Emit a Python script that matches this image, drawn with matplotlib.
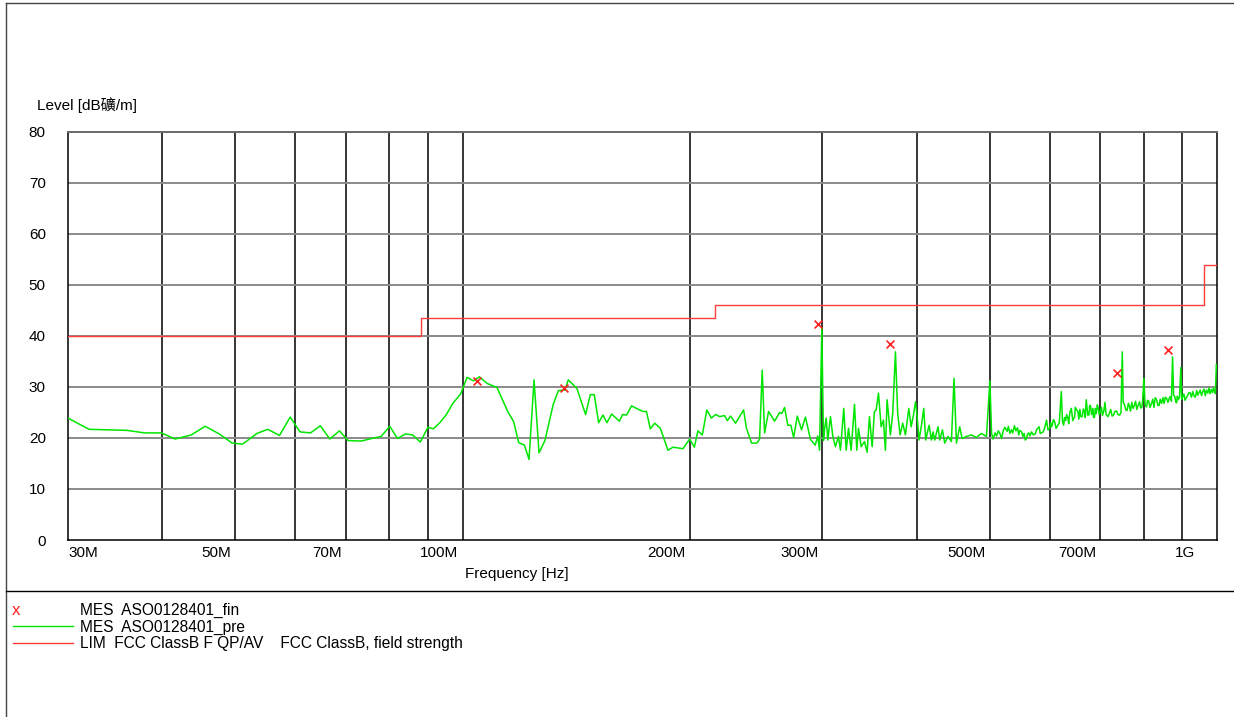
import matplotlib
matplotlib.use("Agg")
import matplotlib.pyplot as plt
from matplotlib.lines import Line2D
from matplotlib.transforms import blended_transform_factory, ScaledTranslation

plt.rcParams['font.family'] = ['Liberation Sans', 'Noto Sans CJK SC', 'DejaVu Sans']

# pre-scan trace (MHz, dBuV/m)
pre_freq = [30.0, 32.0, 35.9, 37.9, 39.9, 41.6, 43.7, 45.6, 47.6, 49.5,
            51.1, 52.1, 53.4, 55.2, 57.2, 59.1, 60.9, 62.9, 64.8, 66.7,
            68.7, 70.5, 73.4, 75.8, 78.0, 80.1, 82.0, 84.0, 85.9, 87.9,
            90.0, 91.5, 93.3, 95.1, 97.1, 99.4, 101.4, 103.4, 105.3, 107.8,
            111.1, 114.8, 116.9, 118.7, 120.8, 122.5, 124.4, 126.3, 128.6, 131.9,
            134.0, 136.7, 138.1, 141.8, 145.6, 147.7, 149.5, 151.5, 153.5, 155.4,
            157.6, 161.4, 163.0, 165.0, 167.5, 171.7, 173.5, 175.3, 177.4, 179.8,
            182.9, 187.2, 190.1, 196.0, 200.0, 202.9, 205.1, 207.9, 210.8, 213.7,
            216.5, 219.2, 222.5, 224.4, 226.6, 230.1, 235.8, 237.8, 241.6, 245.6,
            247.6, 249.6, 251.4, 254.5, 259.2, 263.2, 265.0, 267.2, 269.9, 272.4,
            274.7, 277.8, 281.4, 284.8, 289.2, 293.4, 295.7, 297.3, 299.4, 300.9,
            301.8, 303.4, 304.9, 307.4, 309.6, 312.1, 315.0, 316.9, 320.1, 322.5,
            324.8, 327.4, 330.8, 333.1, 334.8, 337.6, 341.0, 343.8, 346.2, 349.1,
            351.5, 353.4, 355.9, 358.8, 361.3, 363.5, 365.4, 369.1, 371.7, 374.8,
            377.4, 380.2, 383.2, 386.4, 390.4, 393.2, 396.0, 398.4, 400.3, 402.8,
            405.8, 408.6, 411.1, 415.3, 418.4, 420.4, 422.6, 426.8, 429.1, 432.6,
            435.6, 440.0, 444.6, 448.2, 451.5, 456.0, 459.3, 465.4, 472.6, 479.9,
            487.2, 494.8, 500.0,
            502.6, 505.0, 508.0, 510.3, 513.0, 515.5, 518.0, 521.0, 523.4, 527.1,
            529.0, 531.5, 534.0, 536.0, 539.0, 541.3, 544.0, 546.0, 548.0, 550.8,
            553.0, 555.0, 557.0, 559.2, 561.0, 563.0, 565.0, 567.8, 571.0, 574.0,
            577.0, 581.1, 583.0, 585.0, 588.3, 591.0, 594.4, 597.0, 600.0, 602.0,
            604.0, 607.0, 609.2, 612.0, 615.4, 618.0, 621.8, 624.0, 626.2, 628.0,
            630.0, 632.0, 634.4, 636.0, 638.0, 641.0, 644.0, 647.6, 649.0, 651.0,
            654.1, 656.0, 658.0, 660.0, 662.9, 665.0, 667.0, 669.0, 671.0, 674.0,
            676.4, 678.0, 680.0, 682.0, 684.8, 686.0, 688.0, 690.0, 691.9, 694.0,
            696.0, 698.0, 700.4, 703.0, 705.0, 708.0, 710.3, 713.0, 716.8, 720.0,
            723.0, 726.0, 729.4, 732.0, 736.0, 739.0, 742.9, 746.0, 749.0, 751.0,
            754.3, 757.0, 760.0, 763.0, 765.9, 768.0, 771.0, 774.0, 777.6, 780.0,
            783.0, 786.0, 789.6, 792.0, 795.0, 797.0, 800.0, 803.0, 806.6, 809.0,
            812.0, 815.0, 819.0, 822.0, 825.0, 828.0, 831.6, 835.0, 838.0, 841.0,
            844.4, 848.0, 851.0, 854.0, 857.4, 861.0, 866.0, 870.0, 873.2, 876.0,
            879.3, 882.0, 884.0, 886.0, 888.2, 892.0, 895.5, 898.0, 900.8, 904.0,
            907.0, 911.0, 914.7, 918.0, 921.0, 925.0, 928.7, 932.0, 936.0, 940.0,
            943.0, 947.0, 950.0, 954.0, 957.5, 961.0, 965.0, 968.0, 972.2, 976.0,
            979.0, 982.4, 986.0, 989.0, 992.3, 995.0, 998.0]
pre_level = [23.9, 21.7, 21.5, 21.0, 21.0, 19.8, 20.6, 22.3, 20.8, 19.0,
             18.8, 19.7, 20.9, 21.7, 20.5, 24.1, 21.2, 21.0, 22.4, 19.8,
             21.4, 19.5, 19.4, 19.9, 20.3, 22.3, 19.9, 20.8, 20.6, 19.2,
             22.1, 21.8, 23.0, 24.5, 26.8, 28.6, 31.9, 31.2, 32.0, 30.7,
             29.9, 25.2, 23.2, 19.1, 18.6, 15.8, 31.4, 17.1, 19.5, 26.6,
             29.3, 29.4, 31.4, 29.7, 24.6, 28.5, 28.5, 23.0, 24.5, 23.0,
             24.7, 23.3, 24.6, 24.5, 26.3, 25.5, 25.2, 25.2, 21.8, 22.9,
             21.9, 17.6, 18.2, 17.9, 19.8, 18.2, 21.4, 20.6, 25.5, 23.9,
             24.6, 24.2, 24.4, 23.4, 24.3, 22.9, 25.5, 22.0, 19.0, 19.0,
             19.8, 33.3, 21.0, 25.2, 23.3, 25.0, 24.8, 26.0, 22.5, 22.5,
             20.1, 24.3, 21.6, 24.1, 19.7, 18.6, 20.4, 17.6, 41.5, 19.5,
             21.6, 23.9, 19.6, 24.2, 20.3, 18.3, 20.3, 17.6, 25.8, 17.6,
             21.9, 17.6, 26.6, 17.6, 21.9, 18.3, 19.3, 17.2, 24.2, 18.3,
             25.2, 25.5, 28.8, 22.2, 23.5, 17.6, 27.5, 20.6, 24.8, 36.9,
             24.8, 20.6, 22.9, 20.6, 25.8, 22.2, 24.5, 27.1, 24.5, 19.6,
             22.5, 25.8, 19.6, 22.5, 19.6, 21.2, 19.6, 22.2, 19.6, 21.6,
             19.0, 20.3, 19.3, 31.7, 19.0, 22.2, 19.9, 20.3, 20.6, 20.1,
             20.9, 20.3, 31.2,
             20.9, 19.8, 21.0, 20.4, 21.4, 20.9, 19.9, 21.5, 22.1, 21.3,
             22.3, 20.9, 21.6, 21.0, 22.4, 21.4, 22.0, 20.6, 21.5, 21.2,
             20.3, 20.9, 19.6, 19.9, 20.8, 21.0, 20.4, 21.2, 20.6, 20.8,
             21.7, 22.2, 20.9, 21.0, 21.2, 22.0, 23.5, 21.6, 21.9, 23.0,
             22.2, 23.6, 23.2, 21.9, 22.5, 23.0, 29.1, 23.4, 22.5, 24.0,
             23.4, 24.6, 23.9, 22.8, 24.9, 25.8, 23.4, 24.2, 26.0, 25.6,
             25.2, 23.7, 25.6, 24.2, 24.2, 25.7, 25.4, 24.0, 27.5, 24.5,
             24.5, 26.4, 26.2, 24.6, 25.8, 24.0, 24.1, 25.8, 24.8, 26.5,
             25.9, 24.6, 25.2, 26.0, 24.4, 25.3, 27.0, 24.6, 24.2, 24.8,
             25.6, 24.3, 24.5, 25.2, 25.3, 24.6, 24.5, 25.0, 36.9, 27.0,
             26.5, 25.5, 25.4, 26.8, 26.1, 25.3, 27.0, 25.8, 26.5, 27.2,
             25.6, 26.4, 27.1, 25.9, 26.0, 27.3, 31.7, 26.5, 26.1, 27.4,
             27.2, 26.0, 26.8, 27.6, 26.0, 27.9, 27.5, 26.4, 26.4, 27.6,
             26.8, 27.9, 26.8, 28.0, 27.8, 27.0, 28.1, 27.2, 35.9, 28.4,
             28.1, 27.0, 26.9, 28.2, 27.5, 28.0, 33.8, 27.6, 28.1, 28.6,
             27.4, 28.0, 28.4, 28.9, 28.9, 28.0, 29.1, 28.3, 28.0, 29.3,
             28.4, 29.0, 29.4, 28.3, 29.1, 29.6, 28.3, 29.4, 28.8, 29.8,
             28.7, 29.5, 28.9, 29.8, 29.1, 28.7, 34.4]

# final measurement points
fin_freq = [104.5, 136.2, 295.5, 369.1, 737.8, 861.5]
fin_level = [31.2, 29.9, 42.3, 38.4, 32.8, 37.3]

# FCC Class B limit
lim_freq = [30, 88, 216, 960, 1000]
lim_level = [40, 43.5, 46, 54, 54]

grid_freq = [40, 50, 60, 70, 80, 90, 100, 200, 300, 400, 500, 600, 700, 800, 900]
xtick_freq = [30, 50, 70, 100, 200, 300, 500, 700, 1000]
xtick_labels = ['30M', '50M', '70M', '100M', '200M', '300M', '500M', '700M', '1G']
yticks = [0, 10, 20, 30, 40, 50, 60, 70, 80]

fs = 11
fs_leg = 11.2

fig = plt.figure(figsize=(12.34, 7.17), dpi=100)
ax = fig.add_axes([68 / 1234, 1 - 540 / 717, 1149 / 1234, 408 / 717])

ax.set_xscale('log')
ax.set_xlim(30, 1000)
ax.set_ylim(0, 80)

for f in grid_freq:
    ax.axvline(f, color='black', lw=1.1, zorder=1)
for y in yticks[1:]:
    ax.axhline(y, color='#8a8a8a', lw=1.4, zorder=1)

ax.plot(lim_freq, lim_level, drawstyle='steps-post', color='#ff3b3b', lw=1.0, zorder=3)
ax.plot(pre_freq, pre_level, color='#00e600', lw=1.1, zorder=4)
ax.scatter(fin_freq, fin_level, marker='x', color='#ff2020', s=32, lw=1.2, zorder=5)

ax.set_yticks(yticks)
ax.tick_params(axis='y', length=0, pad=16, labelsize=fs)
ax.set_xticks([])
ax.minorticks_off()
ax.tick_params(axis='x', which='both', length=0, labelbottom=False)

for side in ['left', 'bottom', 'right']:
    ax.spines[side].set_color('black')
    ax.spines[side].set_linewidth(1.1)
ax.spines['top'].set_color('#6a6a6a')
ax.spines['top'].set_linewidth(1.4)

trans = blended_transform_factory(ax.transData, ax.transAxes)
for f, lab in zip(xtick_freq, xtick_labels):
    if lab == '30M':
        ha, dx = 'left', 0
    elif lab == '1G':
        ha, dx = 'right', -22
    else:
        ha, dx = 'right', -4
    ax.text(f, -0.032, lab, transform=trans + ScaledTranslation(dx / 100, 0, fig.dpi_scale_trans),
            ha=ha, va='center', fontsize=fs)

fig.text(37 / 1234, 1 - 105 / 717, 'Level [dB礦/m]', ha='left', va='center', fontsize=fs)
fig.text(517 / 1234, 1 - 574 / 717, 'Frequency [Hz]', ha='center', va='center', fontsize=fs)

# page frame
fig.add_artist(Line2D([6 / 1234, 6 / 1234], [0, 1 - 3 / 717], transform=fig.transFigure, color='#444444', lw=1.0))
fig.add_artist(Line2D([6 / 1234, 1], [1 - 3 / 717, 1 - 3 / 717], transform=fig.transFigure, color='#444444', lw=1.0))
fig.add_artist(Line2D([6 / 1234, 1], [1 - 591 / 717, 1 - 591 / 717], transform=fig.transFigure, color='black', lw=1.0))

# legend
fig.text(16 / 1234, 1 - 615 / 717, 'x', color='#ff2020', ha='center', va='baseline', fontsize=fs_leg + 1)
fig.text(80 / 1234, 1 - 615 / 717, 'MES  ASO0128401_fin', ha='left', va='baseline', fontsize=fs_leg)
fig.add_artist(Line2D([13 / 1234, 73 / 1234], [1 - 626 / 717, 1 - 626 / 717], transform=fig.transFigure, color='#00e600', lw=1.0))
fig.text(80 / 1234, 1 - 631.5 / 717, 'MES  ASO0128401_pre', ha='left', va='baseline', fontsize=fs_leg)
fig.add_artist(Line2D([13 / 1234, 73 / 1234], [1 - 643 / 717, 1 - 643 / 717], transform=fig.transFigure, color='#ff3b3b', lw=1.0))
fig.text(80 / 1234, 1 - 648 / 717, 'LIM  FCC ClassB F QP/AV    FCC ClassB, field strength', ha='left', va='baseline', fontsize=fs_leg)

fig.savefig('out.png', dpi=100)
